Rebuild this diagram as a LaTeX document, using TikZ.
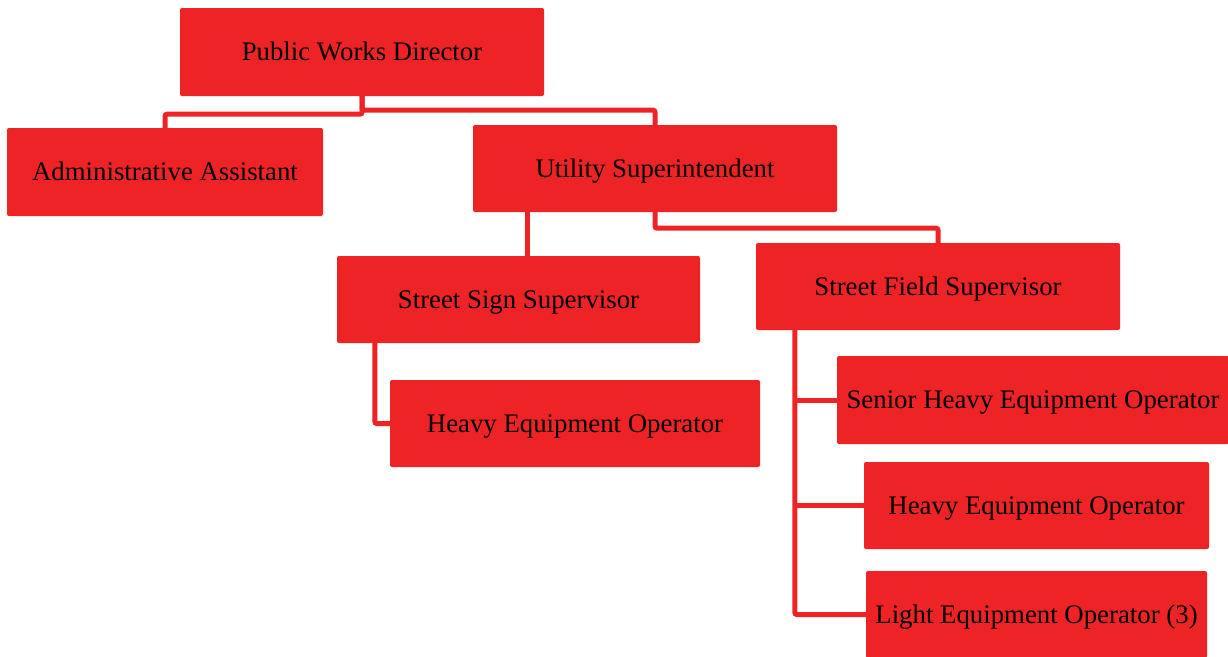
\documentclass[tikz,border=0pt]{standalone}
\usepackage{fontspec}
\setmainfont{Liberation Serif}
\usetikzlibrary{calc}
\definecolor{orgred}{HTML}{EE2326}
\begin{document}
\begin{tikzpicture}[x=1pt,y=-1pt,
  unit/.style={fill=orgred, draw=none, rounded corners=2pt, inner sep=0pt,
    text height=17.7pt, text depth=0pt,
    font=\fontsize{26.8}{30}\selectfont, text=black},
  link/.style={draw=orgred, line width=5pt, rounded corners=2pt}]
\useasboundingbox (0,0) rectangle (1228,656);

% boxes
\node[unit, minimum width=364pt, minimum height=88pt] (dir) at (362,52) {Public Works Director};
\node[unit, minimum width=316pt, minimum height=88pt] (admin) at (165,172) {Administrative Assistant};
\node[unit, minimum width=364pt, minimum height=87pt] (util) at (655,168.5) {Utility Superintendent};
\node[unit, minimum width=363pt, minimum height=87pt] (sign) at (518.5,299.5) {Street Sign Supervisor};
\node[unit, minimum width=364pt, minimum height=87pt] (field) at (938,286.5) {Street Field Supervisor};
\node[unit, minimum width=370pt, minimum height=87pt] (heavyL) at (575,423.5) {Heavy Equipment Operator};
\node[unit, minimum width=392pt, minimum height=88pt] (senior) at (1033,400) {Senior Heavy Equipment Operator};
\node[unit, minimum width=345pt, minimum height=87pt] (heavyR) at (1036.5,505.5) {Heavy Equipment Operator};
\node[unit, minimum width=341pt, minimum height=87pt] (light) at (1036.5,614.5) {Light Equipment Operator (3)};

% reporting lines
\draw[link] (dir.south) -- ++(0,18) -| (admin.north);
\draw[link] (dir.south) -- ++(0,14) -| (util.north);
\coordinate (signTap) at ($(util.south west)+(55,0)$);
\draw[link] (signTap) -- (signTap |- sign.north);
\draw[link] (util.south) -- ++(0,16) -| (field.north);
\coordinate (signDrop) at ($(sign.south west)+(38,0)$);
\draw[link] (signDrop) |- (heavyL.west);
\coordinate (fieldDrop) at ($(field.south west)+(39,0)$);
\draw[link] (fieldDrop) |- (light.west);
\draw[link] (fieldDrop |- senior.west) -- (senior.west);
\draw[link] (fieldDrop |- heavyR.west) -- (heavyR.west);
\end{tikzpicture}
\end{document}
